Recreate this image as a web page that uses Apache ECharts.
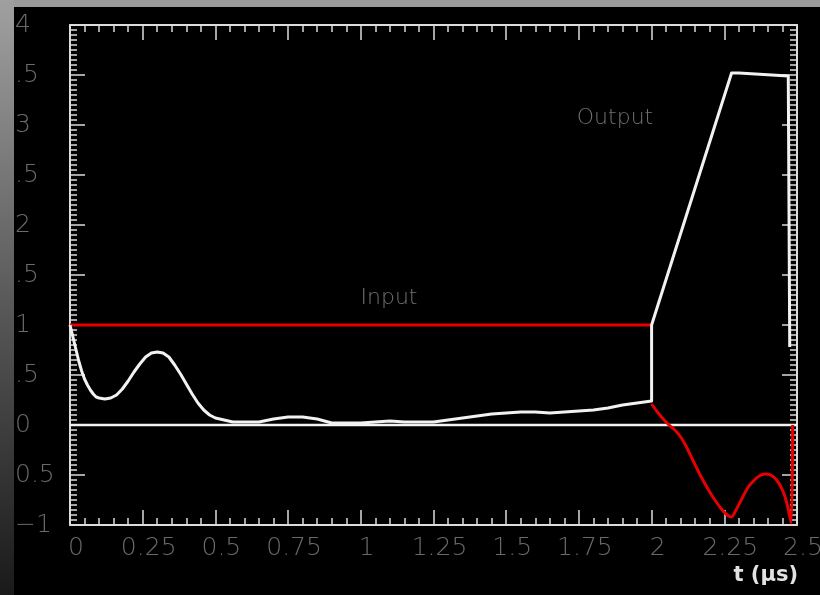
<!DOCTYPE html>
<html>
<head>
<meta charset="utf-8">
<script src="https://cdn.jsdelivr.net/npm/echarts@6/dist/echarts.min.js"></script>
<style>
  html, body { margin: 0; padding: 0; background: #000; overflow: hidden; }
  #chart { width: 820px; height: 595px; }
</style>
</head>
<body>
<div id="chart"></div>
<script>
// Output response (white): settling oscillation, jump at t = 2, ramp, plateau, drop
const outputT = [0, 0.01, 0.02, 0.03, 0.04, 0.05, 0.06, 0.07, 0.08, 0.09, 0.10, 0.12, 0.14, 0.16, 0.18,
  0.20, 0.22, 0.24, 0.26, 0.28, 0.30, 0.32, 0.34, 0.36, 0.38, 0.40, 0.42, 0.44, 0.46, 0.48, 0.50,
  0.53, 0.56, 0.60, 0.65, 0.70, 0.75, 0.80, 0.85, 0.90, 0.95, 1.00, 1.05, 1.10, 1.15, 1.20, 1.25,
  1.30, 1.35, 1.40, 1.45, 1.50, 1.55, 1.60, 1.65, 1.70, 1.75, 1.80, 1.85, 1.90, 1.95, 2.00,
  2.00, 2.275, 2.30, 2.47, 2.475];
const outputV = [1.00, 0.88, 0.76, 0.64, 0.54, 0.46, 0.40, 0.35, 0.31, 0.28, 0.27, 0.26, 0.27, 0.30, 0.36,
  0.44, 0.53, 0.61, 0.68, 0.72, 0.73, 0.72, 0.68, 0.60, 0.51, 0.41, 0.31, 0.22, 0.15, 0.10, 0.07,
  0.05, 0.03, 0.03, 0.03, 0.06, 0.08, 0.08, 0.06, 0.02, 0.02, 0.02, 0.03, 0.04, 0.03, 0.03, 0.03,
  0.05, 0.07, 0.09, 0.11, 0.12, 0.13, 0.13, 0.12, 0.13, 0.14, 0.15, 0.17, 0.20, 0.22, 0.24,
  1.00, 3.52, 3.52, 3.49, 0.78];

// Input (red): unit step up to t = 2
const inputStepT = [0, 2.0];
const inputStepV = [1, 1];

// Input (red) after t = 2
const inputTailT = [2.00, 2.02, 2.04, 2.06, 2.08, 2.10, 2.12, 2.14, 2.16, 2.18, 2.20, 2.22, 2.24, 2.26,
  2.275, 2.29, 2.31, 2.33, 2.35, 2.37, 2.39, 2.41, 2.43, 2.45, 2.465, 2.48, 2.485];
const inputTailV = [0.21, 0.13, 0.06, 0.00, -0.05, -0.12, -0.22, -0.34, -0.46, -0.57, -0.67, -0.76, -0.84, -0.90,
  -0.92, -0.85, -0.74, -0.63, -0.56, -0.51, -0.49, -0.50, -0.55, -0.65, -0.78, -0.98, 0.00];

// Zero reference line
const zeroT = [0, 2.5];
const zeroV = [0, 0];

// Tick labels
const xTickValues = [0, 0.25, 0.5, 0.75, 1, 1.25, 1.5, 1.75, 2, 2.25, 2.5];
const xTickText = ['0', '0.25', '0.5', '0.75', '1', '1.25', '1.5', '1.75', '2', '2.25', '2.5'];
const yTickValues = [-1, -0.5, 0, 0.5, 1, 1.5, 2, 2.5, 3, 3.5, 4];
const yTickText = ['\u22121', '0.5', '0', '.5', '1', '.5', '2', '.5', '3', '.5', '4'];

const zip = (xs, ys) => xs.map((x, i) => [x, ys[i]]);
const lookup = (vals, texts) => v => {
  const i = vals.findIndex(t => Math.abs(t - v) < 1e-9);
  return i < 0 ? '' : texts[i];
};

const frame = '#dcdcdc';
const labelFont = { color: '#6a6a6a', fontFamily: 'DejaVu Sans', fontWeight: 200, fontSize: 25 };

const tickCommon = {
  axisLine: { show: true, onZero: false, lineStyle: { color: frame, width: 2 } },
  axisTick: { show: true, inside: true, length: 15, lineStyle: { color: frame, width: 1.5 } },
  minorTick: { show: true, length: 7, lineStyle: { color: frame, width: 1.5 } },
  splitLine: { show: false },
  minorSplitLine: { show: false }
};

const chart = echarts.init(document.getElementById('chart'), null, { renderer: 'canvas' });
chart.setOption({
  backgroundColor: '#000',
  animation: false,
  grid: { left: 70, top: 25, right: 23, bottom: 70, containLabel: false, outerBoundsMode: 'none' },
  xAxis: [
    Object.assign({
      type: 'value', position: 'bottom', min: 0, max: 2.5, interval: 0.25,
      name: 't (\u00b5s)', nameLocation: 'end', nameGap: 1,
      nameTextStyle: { color: '#e2e2e2', fontFamily: 'DejaVu Sans', fontWeight: 'bold', fontSize: 21,
        align: 'right', verticalAlign: 'top', padding: [40, 0, 0, 0] },
      axisLabel: Object.assign({ margin: 11, padding: [0, 0, 0, 12], showMinLabel: true, showMaxLabel: true,
        hideOverlap: false, formatter: lookup(xTickValues, xTickText) }, labelFont)
    }, tickCommon, { minorTick: Object.assign({}, tickCommon.minorTick, { splitNumber: 5 }) }),
    Object.assign({
      type: 'value', position: 'top', min: 0, max: 2.5, interval: 0.25,
      axisLabel: { show: false }
    }, tickCommon, { minorTick: Object.assign({}, tickCommon.minorTick, { splitNumber: 5 }) })
  ],
  yAxis: [
    Object.assign({
      type: 'value', position: 'left', min: -1, max: 4, interval: 0.5,
      axisLabel: Object.assign({ margin: 55, align: 'left', showMinLabel: true, showMaxLabel: true,
        hideOverlap: false, formatter: lookup(yTickValues, yTickText) }, labelFont)
    }, tickCommon, { minorTick: Object.assign({}, tickCommon.minorTick, { splitNumber: 10 }) }),
    Object.assign({
      type: 'value', position: 'right', min: -1, max: 4, interval: 0.5,
      axisLabel: { show: false }
    }, tickCommon, { minorTick: Object.assign({}, tickCommon.minorTick, { splitNumber: 10 }) })
  ],
  series: [
    {
      name: 'Zero', type: 'line', data: zip(zeroT, zeroV), showSymbol: false, silent: true,
      lineStyle: { color: '#f2f2f2', width: 2.5 }, z: 2
    },
    {
      name: 'Input', type: 'line', data: zip(inputStepT, inputStepV), showSymbol: false,
      lineStyle: { color: '#e80000', width: 3 }, z: 3
    },
    {
      name: 'Input', type: 'line', data: zip(inputTailT, inputTailV), showSymbol: false, smooth: 0.25,
      lineStyle: { color: '#e80000', width: 3 }, z: 3
    },
    {
      name: 'Output', type: 'line', data: zip(outputT, outputV), showSymbol: false,
      lineStyle: { color: '#f2f2f2', width: 3, join: 'round' }, z: 4
    }
  ],
  graphic: [
    { type: 'text', x: 389, y: 298, z: 10,
      style: { text: 'Input', fill: '#707070', font: '200 22px "DejaVu Sans"', align: 'center', verticalAlign: 'middle' } },
    { type: 'text', x: 615, y: 118, z: 10,
      style: { text: 'Output', fill: '#707070', font: '200 22px "DejaVu Sans"', align: 'center', verticalAlign: 'middle' } },
    // grey surround along the top and left edges
    { type: 'rect', z: 100, shape: { x: 0, y: 0, width: 820, height: 7 }, style: { fill: '#9a9a9a' } },
    { type: 'rect', z: 100, shape: { x: 0, y: 0, width: 14, height: 595 },
      style: { fill: new echarts.graphic.LinearGradient(0, 0, 0, 1, [
        { offset: 0, color: '#a0a0a0' }, { offset: 0.5, color: '#5a5a5a' }, { offset: 1, color: '#1a1a1a' }
      ]) } }
  ]
});
</script>
</body>
</html>
